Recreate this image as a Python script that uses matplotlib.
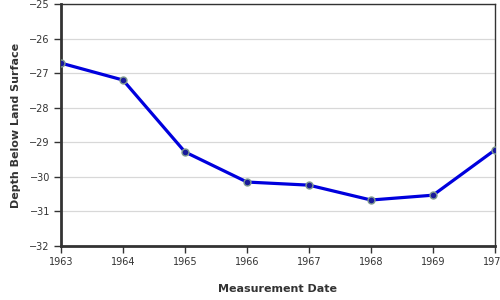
import matplotlib
matplotlib.use('Agg')
import matplotlib.pyplot as plt

# Water level data
years = [1963, 1964, 1965, 1966, 1967, 1968, 1969, 1970]
depth = [-26.71, -27.20, -29.28, -30.15, -30.24, -30.67, -30.53, -29.22]
yticks = [-32, -31, -30, -29, -28, -27, -26, -25]

fig = plt.figure(figsize=(5, 3), dpi=100)
ax = fig.add_axes([0.122, 0.18, 0.868, 0.8067])

ax.plot(years, depth, color='#0000dd', lw=2.3, zorder=3,
        marker='o', markersize=5, markerfacecolor='#1a1a9a',
        markeredgecolor='#7f9a8f', markeredgewidth=1.0)

ax.set_xlim(1963, 1970)
ax.set_ylim(-32, -25)
ax.set_xticks(years)
ax.set_xticklabels([str(y) for y in years])
ax.set_yticks(yticks)
ax.grid(axis='y', color='#d8d8d8', lw=0.9)
ax.set_axisbelow(True)

for s in ['left', 'bottom']:
    ax.spines[s].set_linewidth(2.0)
    ax.spines[s].set_color('#333333')
for s in ['top', 'right']:
    ax.spines[s].set_linewidth(1.0)
    ax.spines[s].set_color('#333333')

ax.tick_params(axis='both', labelsize=7, colors='#333333', length=5, width=1, pad=3)
ax.set_xlabel('Measurement Date', fontsize=8, fontweight='bold', color='#333333', labelpad=12)
ax.set_ylabel('Depth Below Land Surface', fontsize=8, fontweight='bold', color='#333333', labelpad=6)

fig.savefig('out.png', dpi=100, facecolor='w')
